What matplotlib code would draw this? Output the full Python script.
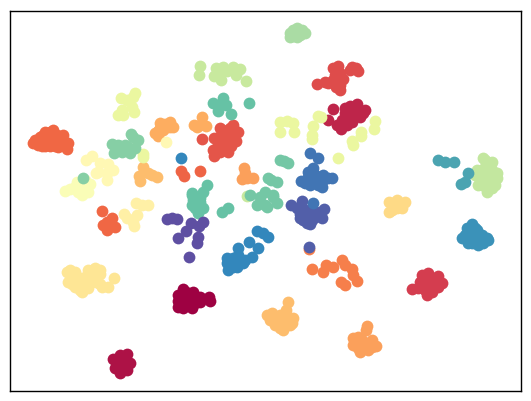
import matplotlib
matplotlib.use('Agg')
import matplotlib.pyplot as plt

# point positions, cluster by cluster
orange_dot = [(309,249)]
dark_red = [(183,289),(178,295),(178,307),(192,308),(193,292),(200,297),(209,297),(210,301),(200,302),(185,300),(183,308),(180,301),(188,297),(195,303),(183,297),(190,302),(186,292),(184,304),(197,300),(178,301),(190,305),(193,298)]
crimson_low = [(127,354),(113,359),(122,358),(130,363),(115,368),(120,373),(127,370),(123,365),(120,355),(118,363),(125,360),(121,368),(127,365),(116,362)]
crimson_top = [(333,109),(328,120),(345,108),(357,104),(365,110),(360,117),(352,112),(352,122),(341,129),(342,120),(347,125),(357,110),(350,106),(355,115),(347,117),(337,125),(350,118),(363,113),(345,113)]
red_right = [(412,289),(422,275),(428,273),(438,276),(442,283),(432,292),(427,295),(418,288),(428,283),(420,282),(437,282),(425,280),(432,278),(433,287),(424,288),(438,287),(425,290),(430,283)]
red_top = [(317,84),(325,82),(333,80),(343,79),(340,90),(340,85),(333,68),(338,66),(340,73),(352,67),(358,71),(350,70),(356,68),(335,75),(328,83),(336,87)]
red_mid = [(202,139),(220,128),(233,125),(238,132),(230,128),(219,137),(227,138),(236,141),(213,150),(214,156),(223,147),(228,152),(220,152),(214,138),(228,142),(223,142),(233,137),(225,135),(228,130),(222,130),(232,132),(218,145),(225,148),(231,146),(216,153)]
orange_big = [(33,143),(38,145),(40,137),(45,132),(53,130),(63,135),(68,143),(67,149),(58,147),(50,146),(43,142),(52,138),(60,142),(57,135),(35,140),(38,141),(42,136),(48,134),(48,140),(55,142),(62,140),(65,146),(55,146),(45,146),(60,138),(50,132),(42,146)]
orange_left = [(102,211),(112,218),(103,225),(107,230),(115,227),(109,223),(107,222)]
orange_small = [(181,171),(184,176),(200,171)]
orange_low = [(312,269),(323,272),(326,265),(333,267),(342,260),(345,265),(352,269),(353,275),(357,281),(341,282),(345,285)]
tan_low = [(367,326),(366,330),(353,338),(353,345),(360,352),(368,350),(376,346),(372,340),(362,340),(362,347),(357,342),(358,348),(365,345),(358,337),(368,344),(355,341),(372,347)]
tan_mid = [(244,168),(245,173),(242,179),(253,178),(247,178)]
tan_top = [(160,123),(170,122),(173,127),(160,128),(167,127),(155,133),(158,136),(194,125),(202,117),(206,126),(200,125),(197,127),(165,124),(163,130),(170,127),(158,131)]
peach_low = [(288,302),(286,310),(272,313),(267,315),(275,325),(283,330),(293,318),(292,323),(282,320),(275,318),(285,325),(280,315),(288,317),(278,322),(287,322),(272,318),(270,320),(290,325),(280,328)]
peach_mid = [(143,167),(139,176),(140,181),(148,173),(157,177),(152,175)]
gold = [(389,202),(397,200),(405,202),(402,208),(389,212),(393,207),(397,208),(400,205),(393,203),(392,210)]
sand = [(67,272),(68,282),(75,272),(75,287),(82,292),(80,278),(88,270),(95,268),(100,274),(90,283),(85,283),(100,284),(102,287),(108,287),(114,278),(93,275),(72,277),(78,283),(85,277),(92,270),(95,278),(72,284),(80,290),(70,270),(88,288),(96,282),(100,270)]
cream_mid = [(136,203),(142,205),(148,205),(124,214),(127,218),(137,215),(134,226),(133,222)]
pale = [(86,160),(92,156),(100,163),(108,164),(113,170),(107,173),(107,180),(96,173),(98,172),(166,142)]
pale_low = [(65,191),(70,189),(77,182),(80,187),(90,184),(88,192),(82,195),(78,192),(85,180),(82,187),(85,192),(75,187),(83,183),(85,188)]
yellow_left = [(135,93),(133,97),(121,98),(127,100),(122,110),(118,115),(123,115),(132,107),(134,112),(143,154),(143,157)]
yellow_right = [(280,122),(287,121),(293,123),(280,132),(294,132),(313,126),(318,116),(321,117),(312,135),(312,139),(375,121),(374,129),(361,132),(361,136),(352,141),(353,145),(338,158)]
lime_top = [(200,66),(199,75),(216,68),(223,67),(214,76),(221,80),(218,72),(233,67),(240,69),(236,75),(246,81),(227,71),(247,196)]
lime_right = [(483,158),(492,162),(477,170),(485,167),(497,173),(497,178),(478,185),(485,180),(487,192),(492,188),(478,175),(490,173),(483,175),(488,178),(482,185),(490,165),(485,160),(480,178),(492,180),(487,185),(495,185),(475,175),(492,170),(482,170)]
mint = [(290,33),(297,28),(302,30),(305,33),(297,37),(290,37),(298,33),(293,30),(295,32),(300,35),(293,36),(295,30)]
green_left = [(131,134),(138,140),(133,137),(112,144),(114,153),(118,145),(125,145),(127,150),(130,153),(135,148),(123,148),(118,150),(122,152),(128,147),(120,146)]
green_dot = [(83,178)]
green_mid = [(284,161),(280,160),(288,163),(271,180),(277,182),(268,178),(273,195),(265,192),(257,205),(267,207),(250,195),(260,197),(277,203),(265,205),(273,197)]
teal_top = [(223,98),(213,103),(218,111),(226,105),(231,114),(220,105),(249,103)]
teal_low = [(207,185),(203,192),(192,193),(200,198),(192,195),(192,205),(198,197),(203,208),(198,213),(198,207),(222,212),(228,208),(197,202),(195,208),(200,202),(193,200)]
cyan_small = [(438,160),(445,162),(454,162),(468,173),(465,182),(461,184)]
cyan_big = [(472,224),(467,228),(462,238),(468,243),(478,245),(487,238),(482,235),(473,235),(475,228),(483,243),(470,232),(468,238),(475,240),(480,240),(485,240),(472,243),(477,230),(470,228),(465,235),(488,240)]
blue_low = [(227,258),(228,270),(227,263),(238,248),(238,255),(237,267),(243,263),(252,257),(258,248),(249,242),(257,231),(263,233),(268,237),(233,258),(181,158),(233,267),(233,262),(245,260),(240,260)]
indigo = [(291,205),(297,208),(302,201),(305,210),(324,209),(322,218),(303,220),(307,223),(312,220),(315,212),(315,217),(309,247),(300,214),(308,216),(310,210),(320,212),(318,215),(305,218),(300,218),(310,224)]
blue_mid = [(310,153),(318,158),(313,168),(308,172),(301,181),(310,185),(315,175),(323,175),(332,178),(322,187),(323,180),(308,177),(313,203),(316,180),(312,181),(305,183),(318,185),(328,178),(313,172)]
purple = [(167,219),(172,218),(177,219),(191,223),(203,222),(199,226),(186,231),(178,238),(198,237),(197,243),(189,257)]

# colour value of each cluster on the Spectral map
clusters = [
    (0.23, orange_dot), (0.0, dark_red), (0.03, crimson_low), (0.06, crimson_top),
    (0.10, red_right), (0.13, red_top), (0.15, red_mid), (0.19, orange_big),
    (0.19, orange_left), (0.18, orange_small), (0.23, orange_low), (0.28, tan_low),
    (0.28, tan_mid), (0.30, tan_top), (0.33, peach_low), (0.33, peach_mid),
    (0.39, gold), (0.42, sand), (0.45, cream_mid), (0.48, pale), (0.52, pale_low),
    (0.58, yellow_left), (0.58, yellow_right), (0.65, lime_top), (0.66, lime_right),
    (0.70, mint), (0.75, green_left), (0.75, green_dot), (0.78, green_mid), (0.80, teal_top),
    (0.80, teal_low), (0.85, cyan_small), (0.88, cyan_big), (0.90, blue_low),
    (0.97, indigo), (0.93, blue_mid), (1.0, purple),
]

fig = plt.figure(figsize=(5.31, 4.01), dpi=100)
ax = fig.add_axes([10/531, 1 - 390.5/401, 511/531, 380/401])

for value, pts in clusters:
    xs = [p[0] for p in pts]
    ys = [p[1] for p in pts]
    ax.scatter(xs, ys, color=plt.cm.Spectral(value), s=72, linewidths=0)

ax.set_xlim(10, 521)
ax.set_ylim(390.5, 10.5)
ax.set_xticks([])
ax.set_yticks([])
for side in ax.spines.values():
    side.set_linewidth(1.0)

fig.savefig('out.png', dpi=100)
